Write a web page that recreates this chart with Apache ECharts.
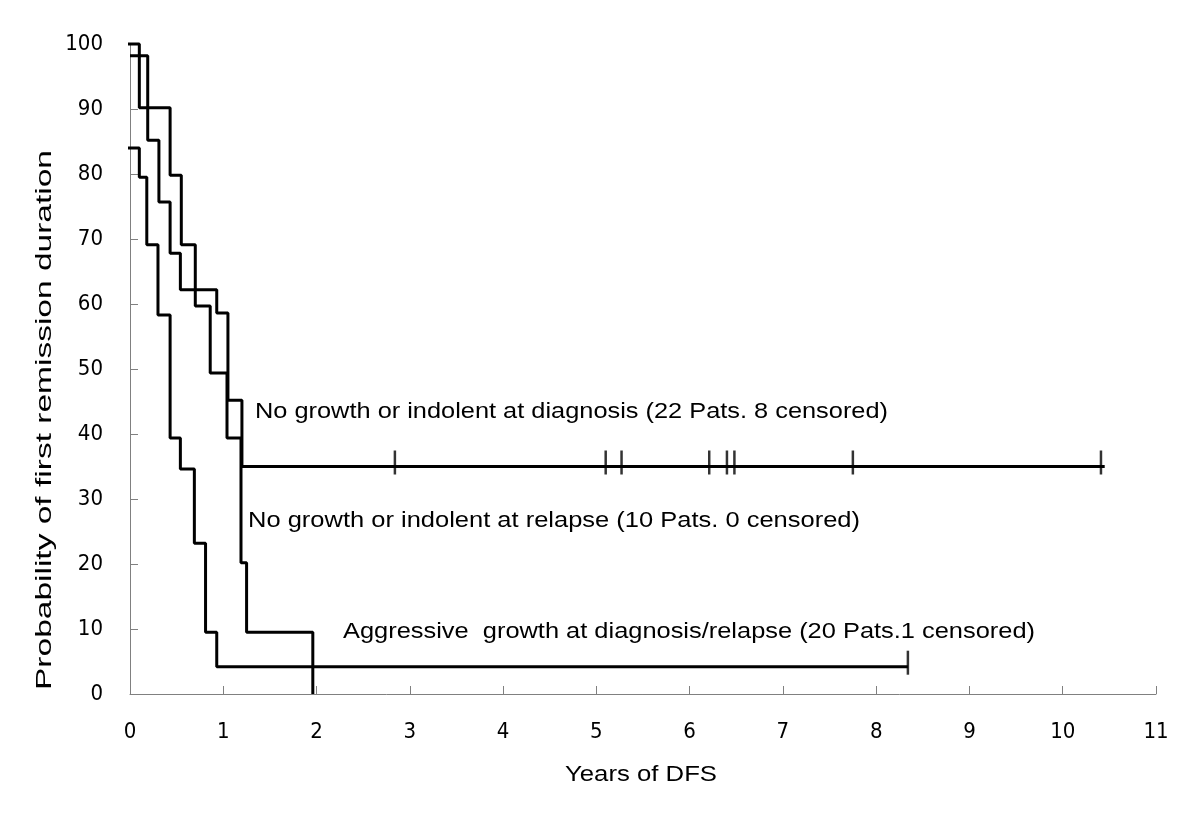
<!DOCTYPE html>
<html>
<head>
<meta charset="utf-8">
<script src="https://cdn.jsdelivr.net/npm/echarts@6/dist/echarts.min.js"></script>
<style>html,body{margin:0;padding:0;background:#fff}#main{width:1200px;height:833px}</style>
</head>
<body>
<div id="main"></div>
<script>
// ---- data ----
const xTicks = [0,1,2,3,4,5,6,7,8,9,10,11];
const yTicks = [0,10,20,30,40,50,60,70,80,90,100];

// No growth or indolent at diagnosis (22 pats, 8 censored)
const diagTimes  = [0, 0.19, 0.31, 0.43, 0.54, 0.93, 1.05, 1.20, 10.45];
const diagSurv   = [98.2, 85.2, 75.7, 67.8, 62.2, 58.6, 45.2, 35.0, 35.0];
const diagCensor = [2.84, 5.10, 5.27, 6.21, 6.40, 6.48, 7.75, 10.41];

// No growth or indolent at relapse (10 pats, 0 censored)
const relTimes = [-0.12, 0.10, 0.43, 0.55, 0.70, 0.86, 1.04, 1.19, 1.25, 1.96];
const relSurv  = [100, 90.2, 79.8, 69.1, 59.7, 49.4, 39.4, 20.2, 9.5, 0];

// Aggressive growth at diagnosis/relapse (20 pats, 1 censored)
const aggTimes  = [-0.03, 0.10, 0.18, 0.30, 0.43, 0.54, 0.69, 0.81, 0.93, 8.34];
const aggSurv   = [84.0, 79.5, 69.1, 58.3, 39.4, 34.6, 23.2, 9.5, 4.2, 4.2];
const aggCensor = [8.34];

const labels = {
  diag: 'No growth or indolent at diagnosis (22 Pats. 8 censored)',
  rel:  'No growth or indolent at relapse (10 Pats. 0 censored)',
  agg:  'Aggressive  growth at diagnosis/relapse (20 Pats.1 censored)',
  xName: 'Years of DFS',
  yName: 'Probability of first remission duration'
};

// ---- helpers ----
const zip = (xs, ys) => xs.map((x, i) => [x, ys[i]]);
const censorPts = (xs, level) => xs.map(x => [x, level]);
const cv = document.createElement('canvas').getContext('2d');
function measure(text, font){ cv.font = font; return cv.measureText(text).width; }
const TXT_FONT = '22px "Liberation Sans", Arial, sans-serif';
function textEl(text, x, y, targetW, opts){
  opts = opts || {};
  const font = opts.font || TXT_FONT;
  const w = measure(text, font);
  return {
    type: 'text', x: x, y: y,
    rotation: opts.rotation || 0,
    scaleX: targetW / w,
    style: { text: text, font: font, fill: '#000',
             textAlign: opts.align || 'left', textVerticalAlign: 'middle' },
    silent: true
  };
}

const lineStyle = { color: '#000', width: 3 };
function kmSeries(data){
  return { type: 'line', step: 'end', data: data, symbol: 'none',
           lineStyle: lineStyle, clip: false, animation: false, z: 3 };
}
function censorSeries(data){
  return { type: 'scatter', data: data, symbol: 'rect',
           symbolSize: [2.5, 24], symbolOffset: [0, -4],
           itemStyle: { color: '#000' }, animation: false, z: 4 };
}

const axisGray = '#808080';
const tickFont = '"Liberation Sans Narrow", "Arial Narrow", "DejaVu Sans Condensed", Arial, sans-serif';

const option = {
  backgroundColor: '#fff',
  animation: false,
  grid: { left: 130, right: 44, top: 44, bottom: 139 },
  xAxis: {
    type: 'value', min: xTicks[0], max: xTicks[xTicks.length-1], interval: 1,
    axisLine: { show: true, lineStyle: { color: axisGray, width: 1 } },
    axisTick: { show: true, inside: true, length: 8, lineStyle: { color: axisGray } },
    splitLine: { show: false },
    axisLabel: { color: '#000', fontSize: 22, fontFamily: tickFont, margin: 27 }
  },
  yAxis: {
    type: 'value', min: yTicks[0], max: yTicks[yTicks.length-1], interval: 10,
    axisLine: { show: true, lineStyle: { color: axisGray, width: 1 } },
    axisTick: { show: true, inside: true, length: 8, lineStyle: { color: axisGray } },
    splitLine: { show: false },
    axisLabel: { color: '#000', fontSize: 22, fontFamily: tickFont, margin: 27 }
  },
  series: [
    kmSeries(zip(diagTimes, diagSurv)),
    kmSeries(zip(relTimes, relSurv)),
    kmSeries(zip(aggTimes, aggSurv)),
    censorSeries(censorPts(diagCensor, diagSurv[diagSurv.length-1])),
    censorSeries(censorPts(aggCensor, aggSurv[aggSurv.length-1]))
  ],
  graphic: [
    textEl(labels.diag, 255, 412, 633),
    textEl(labels.rel, 248, 521, 612),
    textEl(labels.agg, 343, 632, 692),
    textEl(labels.xName, 641, 775, 152, { align: 'center' }),
    textEl(labels.yName, 45, 420, 540, { align: 'center', rotation: Math.PI/2 })
  ]
};

const chart = echarts.init(document.getElementById('main'), null, { renderer: 'canvas' });
chart.setOption(option);
</script>
</body>
</html>
